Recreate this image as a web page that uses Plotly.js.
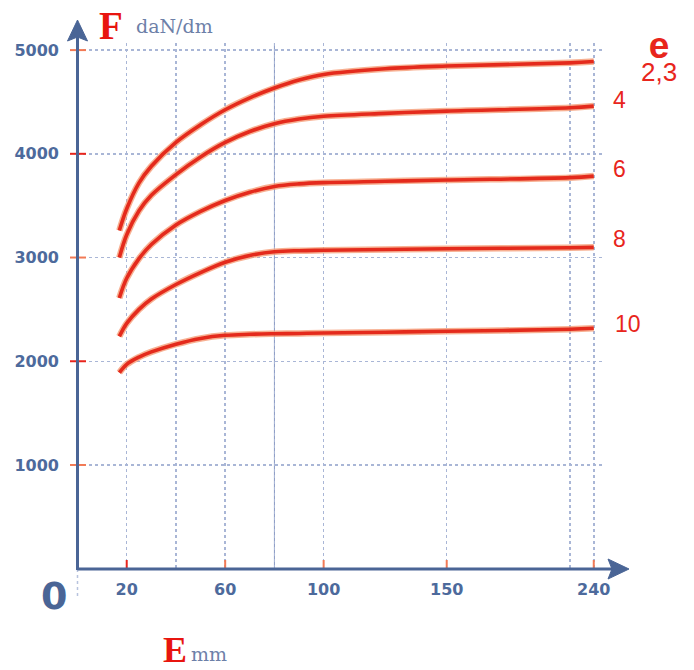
<!DOCTYPE html>
<html>
<head>
<meta charset="utf-8">
<script src="https://cdn.plot.ly/plotly-3.0.1.min.js"></script>
<style>html,body{margin:0;padding:0;background:#fff;}#chart{width:694px;height:670px;}</style>
</head>
<body>
<div id="chart"></div>
<script>
// ---- data ----
const E_mm  = [17, 20, 25, 30, 40, 50, 60, 70, 80, 90, 100, 125, 150, 200, 240];
const F_e23 = [3260, 3470, 3720, 3880, 4110, 4280, 4425, 4540, 4635, 4712, 4765, 4820, 4846, 4877, 4890];
const F_e4  = [3000, 3220, 3450, 3600, 3800, 3970, 4110, 4215, 4290, 4335, 4362, 4390, 4412, 4444, 4460];
const F_e6  = [2610, 2800, 2990, 3126, 3314, 3445, 3550, 3630, 3685, 3710, 3722, 3735, 3748, 3770, 3785];
const F_e8  = [2240, 2365, 2500, 2600, 2740, 2855, 2955, 3020, 3055, 3066, 3070, 3078, 3085, 3095, 3098];
const F_e10 = [1890, 1970, 2040, 2090, 2165, 2220, 2250, 2260, 2265, 2268, 2272, 2280, 2289, 2308, 2318];
const seriesLabels = ['2,3', '4', '6', '8', '10'];
const xGridMm = [20, 40, 60, 80, 100, 150, 200, 240];
const xTickText = ['20', '', '60', '', '100', '150', '', '240'];
const xLabeledMm = [20, 60, 100, 150, 240];
const yTicks = [1000, 2000, 3000, 4000, 5000];
const yTickText = ['1000', '2000', '3000', '4000', '5000'];

// the E axis is linear up to 200 mm, then compressed up to 240 mm
function toAxis(mm) { return mm <= 200 ? mm : 200 + (mm - 200) * 0.2433; }

// ---- layout geometry ----
const W = 694, H = 670, ML = 77, MR = 90, MT = 43, MB = 101;
const PW = W - ML - MR, PH = H - MT - MB;
const px = x => (x - ML) / PW;           // pixel -> paper x
const py = y => (H - MB - y) / PH;       // pixel -> paper y

const RED = '#e42a1c', HALO = 'rgba(244,150,110,0.75)', AXIS = '#4a6596', LBL = '#4d6a9c';

const allSeries = [F_e23, F_e4, F_e6, F_e8, F_e10];
const traces = [];
allSeries.forEach((vals, i) => {
  const xs = E_mm.map(toAxis);
  traces.push({x: xs, y: vals, type: 'scatter', mode: 'lines', name: seriesLabels[i] + ' halo',
    line: {color: HALO, width: 6.5, shape: 'spline', smoothing: 1}, hoverinfo: 'skip', showlegend: false});
  traces.push({x: xs, y: vals, type: 'scatter', mode: 'lines', name: 'e = ' + seriesLabels[i],
    line: {color: RED, width: 3.6, shape: 'spline', smoothing: 1}, showlegend: false});
});

const shapes = [];
// special darker grid line at 80 mm
shapes.push({type: 'line', xref: 'x', yref: 'paper', x0: toAxis(80), x1: toAxis(80), y0: 0, y1: 1,
  line: {color: '#8797c2', width: 1}, layer: 'below'});
// y tick marks
yTicks.forEach((v, i) => shapes.push({type: 'line', xref: 'paper', yref: 'y', x0: px(70), x1: px(86), y0: v, y1: v,
  line: {color: i % 2 === 1 ? '#e8251c' : '#f27a55', width: 2}}));
// x tick marks
xLabeledMm.forEach((m, i) => shapes.push({type: 'line', xref: 'x', yref: 'paper', x0: toAxis(m), x1: toAxis(m),
  y0: 0, y1: 9 / PH, line: {color: i === 0 ? '#e8251c' : '#f27a55', width: 2}}));
// faint line below origin
shapes.push({type: 'line', xref: 'paper', yref: 'paper', x0: px(77.5), x1: px(77.5), y0: py(569), y1: py(598),
  line: {color: '#b8c3de', width: 1.5, dash: 'dot'}});
// axes lines
shapes.push({type: 'line', xref: 'paper', yref: 'paper', x0: px(77.5), x1: px(616), y0: py(569), y1: py(569),
  line: {color: AXIS, width: 3}});
shapes.push({type: 'line', xref: 'paper', yref: 'paper', x0: px(77.5), x1: px(77.5), y0: py(570), y1: py(34),
  line: {color: AXIS, width: 3}});
// arrow heads
function pathPx(pts) { return 'M' + pts.map(p => px(p[0]) + ',' + py(p[1])).join(' L') + ' Z'; }
shapes.push({type: 'path', xref: 'paper', yref: 'paper', path: pathPx([[77.5, 20], [87.5, 41], [77.5, 37], [67.5, 41]]),
  fillcolor: AXIS, line: {color: AXIS, width: 1}});
shapes.push({type: 'path', xref: 'paper', yref: 'paper', path: pathPx([[629, 569], [608, 559], [612, 569], [608, 579]]),
  fillcolor: AXIS, line: {color: AXIS, width: 1}});

function ann(text, x, y, font, xanchor) {
  return {text: text, xref: 'paper', yref: 'paper', x: px(x), y: py(y), xanchor: xanchor || 'center', yanchor: 'middle',
    showarrow: false, font: font};
}
const serif = 'Liberation Serif, Times New Roman, serif';
const dserif = 'DejaVu Serif, serif';
const sans = 'Liberation Sans, Arial, sans-serif';
const annotations = [
  ann('F', 111, 26, {family: serif, size: 39, color: '#e8150f', weight: 'bold'}),
  ann('daN/dm', 134, 26, {family: dserif, size: 19, color: '#6d80a8'}, 'left'),
  ann('E', 175, 650, {family: serif, size: 36, color: '#e8150f', weight: 'bold'}),
  ann('mm', 189, 654, {family: dserif, size: 19, color: '#6d80a8'}, 'left'),
  ann('0', 53.5, 596, {family: 'DejaVu Sans, sans-serif', size: 38, color: '#4a6596', weight: 'bold'}),
  ann('<span style="font-size:37px;font-weight:bold">e</span><br><span style="font-size:26px">' + seriesLabels[0] + '</span>',
      659, 56, {family: sans, size: 18, color: '#e8251c'}),
  ann(seriesLabels[1], 619, 100, {family: sans, size: 23, color: '#e8251c'}),
  ann(seriesLabels[2], 619, 168.5, {family: sans, size: 23, color: '#e8251c'}),
  ann(seriesLabels[3], 619, 238.5, {family: sans, size: 23, color: '#e8251c'}),
  ann(seriesLabels[4], 627.5, 323.5, {family: sans, size: 23, color: '#e8251c'})
];

const xScale = 2.4615;
const layout = {
  width: W, height: H,
  margin: {l: ML, r: MR, t: MT, b: MB, pad: 0},
  paper_bgcolor: '#ffffff', plot_bgcolor: '#ffffff',
  showlegend: false,
  xaxis: {
    range: [-0.2, -0.2 + PW / xScale],
    tickmode: 'array', tickvals: xGridMm.map(toAxis), ticktext: xTickText,
    showgrid: true, gridcolor: '#a9b6d6', griddash: 'dot', gridwidth: 1.5,
    zeroline: false, showline: false, ticks: '', ticklabelstandoff: 9,
    tickfont: {family: 'DejaVu Sans, sans-serif', size: 16, color: LBL, weight: 'bold'},
    fixedrange: true
  },
  yaxis: {
    range: [-3, -3 + PH / 0.10372],
    tickmode: 'array', tickvals: yTicks, ticktext: yTickText,
    showgrid: true, gridcolor: '#a9b6d6', griddash: 'dot', gridwidth: 1.5,
    zeroline: false, showline: false, ticks: '', ticklabelstandoff: 17,
    tickfont: {family: 'DejaVu Sans, sans-serif', size: 16, color: LBL, weight: 'bold'},
    fixedrange: true
  },
  shapes: shapes,
  annotations: annotations
};

Plotly.newPlot('chart', traces, layout, {displayModeBar: false, staticPlot: true});
</script>
</body>
</html>
